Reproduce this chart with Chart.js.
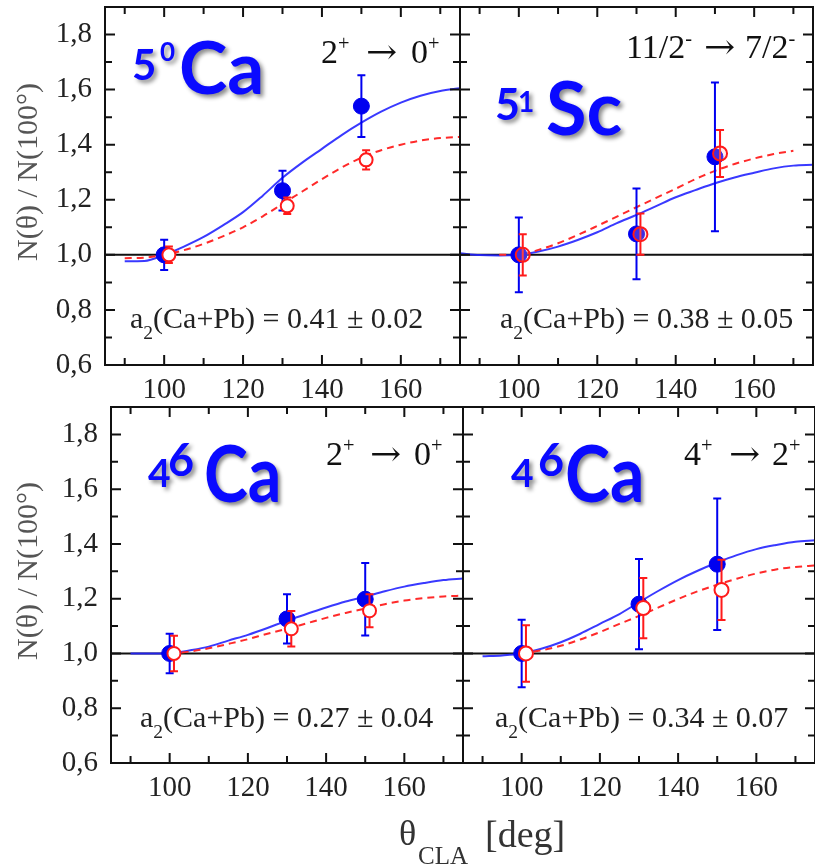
<!DOCTYPE html>
<html><head><meta charset="utf-8">
<script src="https://cdn.jsdelivr.net/npm/chart.js@4.4.1/dist/chart.umd.min.js"></script>
<style>
html,body{margin:0;padding:0;background:#fff;}
#wrap{position:relative;width:815px;height:866px;overflow:hidden;background:#fff;}
#wrap canvas{position:absolute;left:0;top:0;}
.t{position:absolute;white-space:nowrap;line-height:1;transform-origin:0 100%;}
.big{font-family:Lato,"Open Sans",sans-serif;font-weight:bold;color:#0a0aff;text-shadow:3px 3px 4px rgba(0,0,0,0.45);}
.ser{font-family:"Liberation Serif","Times New Roman",serif;}
.arr{font-family:"DejaVu Serif",serif;}
</style></head><body><div id="wrap">
<canvas id="cA" width="815" height="866"></canvas>
<canvas id="cB" width="815" height="866"></canvas>
<canvas id="cC" width="815" height="866"></canvas>
<canvas id="cD" width="815" height="866"></canvas>
</div>
<script>
// ---------- axis ticks ----------
const xTickValues = [90,100,110,120,130,140,150,160,170];
const xTickLabels = [100,120,140,160];
const yTickValues = [0.6,0.7,0.8,0.9,1.0,1.1,1.2,1.3,1.4,1.5,1.6,1.7,1.8];
const yTickLabels = [0.6,0.8,1.0,1.2,1.4,1.6,1.8];
const refLevel = 1.0;

// ---------- panel A : 50Ca 2+ -> 0+ ----------
const aBlueTheta = [100,130,150];
const aBlueVal   = [1.0,1.233,1.54];
const aBlueErr   = [0.055,0.072,0.112];
const aRedTheta  = [101.2,131.2,151.2];
const aRedVal    = [1.0,1.178,1.345];
const aRedErr    = [0.03,0.03,0.035];
const aFitBlueTheta = [90,95,100,105,110,115,120,125,130,135,140,145,150,155,160,165,170,175];
const aFitBlueVal   = [0.977,0.978,1.0,1.03,1.065,1.108,1.155,1.215,1.28,1.335,1.385,1.435,1.48,1.52,1.553,1.578,1.595,1.605];
const aFitRedTheta  = [90,95,100,105,110,115,120,125,130,135,140,145,150,155,160,165,170,175];
const aFitRedVal    = [0.988,0.99,1.0,1.017,1.04,1.068,1.1,1.14,1.185,1.23,1.275,1.317,1.353,1.38,1.40,1.415,1.424,1.428];

// ---------- panel B : 51Sc 11/2- -> 7/2- ----------
const bBlueTheta = [100,130,150];
const bBlueVal   = [1.0,1.076,1.356];
const bBlueErr   = [0.136,0.165,0.27];
const bRedTheta  = [101,131,151.3];
const bRedVal    = [1.0,1.075,1.368];
const bRedErr    = [0.075,0.075,0.085];
const bFitBlueTheta = [85,90,95,100,105,110,115,120,125,130,135,140,145,150,155,160,165,170,175];
const bFitBlueVal   = [1.006,0.999,0.998,1.0,1.012,1.03,1.054,1.082,1.115,1.145,1.177,1.209,1.235,1.26,1.281,1.298,1.314,1.324,1.327];
const bFitRedTheta  = [95,100,105,110,115,120,125,130,135,140,145,150,155,160,165,170];
const bFitRedVal    = [1.0,1.0,1.018,1.042,1.072,1.105,1.139,1.173,1.207,1.24,1.275,1.305,1.33,1.35,1.366,1.378];

// ---------- panel C : 46Ca 2+ -> 0+ ----------
const cBlueTheta = [100,130,150];
const cBlueVal   = [1.0,1.126,1.198];
const cBlueErr   = [0.072,0.09,0.132];
const cRedTheta  = [101.1,131.1,151.1];
const cRedVal    = [1.0,1.09,1.156];
const cRedErr    = [0.065,0.065,0.06];
const cFitBlueTheta = [90,95,100,105,110,115,120,125,130,135,140,145,150,155,160,165,170,175];
const cFitBlueVal   = [1.0,1.0,1.0,1.011,1.025,1.047,1.068,1.093,1.12,1.144,1.168,1.19,1.208,1.227,1.244,1.257,1.268,1.274];
const cFitRedTheta  = [100,105,110,115,120,125,130,135,140,145,150,155,160,165,170,175];
const cFitRedVal    = [1.0,1.007,1.019,1.035,1.052,1.072,1.09,1.11,1.13,1.148,1.164,1.18,1.193,1.202,1.208,1.211];

// ---------- panel D : 46Ca 4+ -> 2+ ----------
const dBlueTheta = [100,130,150];
const dBlueVal   = [1.0,1.18,1.326];
const dBlueErr   = [0.123,0.165,0.24];
const dRedTheta  = [101.1,131.1,151.1];
const dRedVal    = [1.0,1.166,1.232];
const dRedErr    = [0.103,0.11,0.11];
const dFitBlueTheta = [90,95,100,105,110,115,120,125,130,135,140,145,150,155,160,165,170,175];
const dFitBlueVal   = [0.99,0.993,1.0,1.017,1.041,1.072,1.108,1.144,1.187,1.229,1.268,1.302,1.332,1.359,1.381,1.396,1.408,1.413];
const dFitRedTheta  = [100,105,110,115,120,125,130,135,140,145,150,155,160,165,170,175];
const dFitRedVal    = [1.0,1.011,1.028,1.051,1.078,1.108,1.137,1.168,1.199,1.227,1.251,1.273,1.292,1.307,1.316,1.321];

// ---------- helpers ----------
const pts = (xs, ys) => xs.map((x, i) => ({x: x, y: ys[i]}));
const isLab = (arr, v) => arr.some(l => Math.abs(l - v) < 1e-9);

const framePlugin = {
  id: 'frame',
  beforeDatasetsDraw(chart) {
    const {ctx, chartArea: a, scales} = chart;
    const y = scales.y.getPixelForValue(refLevel);
    ctx.save();
    ctx.strokeStyle = '#111'; ctx.lineWidth = 2;
    ctx.beginPath(); ctx.moveTo(a.left, y); ctx.lineTo(a.right, y); ctx.stroke();
    ctx.restore();
  },
  beforeDatasetDraw(chart, args) {
    const ds = chart.data.datasets[args.index];
    if (!ds.errors) return;
    const {ctx, scales} = chart;
    ctx.save();
    ctx.strokeStyle = ds.borderColor; ctx.lineWidth = 2;
    ds.data.forEach((p, i) => {
      const e = ds.errors[i];
      const x = scales.x.getPixelForValue(p.x);
      const y1 = scales.y.getPixelForValue(p.y + e);
      const y2 = scales.y.getPixelForValue(p.y - e);
      ctx.beginPath();
      ctx.moveTo(x, y1); ctx.lineTo(x, y2);
      ctx.moveTo(x - 4, y1); ctx.lineTo(x + 4, y1);
      ctx.moveTo(x - 4, y2); ctx.lineTo(x + 4, y2);
      ctx.stroke();
    });
    ctx.restore();
  },
  afterDraw(chart) {
    const {ctx, chartArea: a, scales} = chart;
    ctx.save();
    ctx.strokeStyle = '#111'; ctx.lineWidth = 2;
    ctx.strokeRect(a.left, a.top, a.right - a.left, a.bottom - a.top);
    ctx.beginPath();
    xTickValues.forEach(v => {
      const x = scales.x.getPixelForValue(v);
      const L = isLab(xTickLabels, v) ? 10 : 7;
      ctx.moveTo(x, a.bottom); ctx.lineTo(x, a.bottom - L);
      ctx.moveTo(x, a.top); ctx.lineTo(x, a.top + L);
    });
    yTickValues.forEach(v => {
      const y = scales.y.getPixelForValue(v);
      const L = isLab(yTickLabels, v) ? 10 : 7;
      ctx.moveTo(a.left, y); ctx.lineTo(a.left + L, y);
      ctx.moveTo(a.right, y); ctx.lineTo(a.right - L, y);
    });
    ctx.stroke();
    ctx.restore();
  }
};

const tickFont = {family: '"Liberation Serif", "Times New Roman", serif', size: 29};
const tickColor = '#222';

function makePanel(id, area, showY, P) {
  const W = 815, H = 866, xH = 40;
  const yW = showY ? area.left : 0;
  new Chart(document.getElementById(id), {
    type: 'scatter',
    data: {datasets: [
      {label: 'fit Ca+Pb', type: 'line', data: pts(P.fbx, P.fby), borderColor: 'rgba(35,35,255,0.9)', borderWidth: 2,
       pointRadius: 0, cubicInterpolationMode: 'monotone', fill: false, order: 6},
      {label: 'fit Pb', type: 'line', data: pts(P.frx, P.fry), borderColor: '#ff2a2a', borderWidth: 2, borderDash: [7, 5],
       pointRadius: 0, cubicInterpolationMode: 'monotone', fill: false, order: 5},
      {label: 'Ca+Pb', data: pts(P.bx, P.by), errors: P.be, pointRadius: P.br, pointBackgroundColor: '#0000f0',
       borderColor: '#0000f0', pointBorderColor: '#0000f0', borderWidth: 1, order: 3},
      {label: 'Pb', data: pts(P.rx, P.ry), errors: P.re, pointRadius: P.rr, pointBackgroundColor: P.rfill,
       borderColor: '#ff1a1a', pointBorderColor: '#ff1a1a', pointBorderWidth: 2, order: 2}
    ]},
    options: {
      responsive: false, animation: false, devicePixelRatio: 1,
      layout: {autoPadding: false, padding: {left: area.left - yW, top: area.top, right: W - area.right, bottom: H - area.bottom - xH}},
      plugins: {legend: {display: false}, tooltip: {enabled: false}},
      scales: {
        x: {type: 'linear', min: 85, max: 175,
            grid: {display: false, drawTicks: false}, border: {display: false},
            afterBuildTicks: s => { s.ticks = xTickValues.map(v => ({value: v})); },
            ticks: {callback: v => isLab(xTickLabels, v) ? String(v) : '', font: tickFont, color: tickColor,
                    padding: 8, maxRotation: 0, autoSkip: false},
            afterFit: s => { s.height = xH; s.paddingLeft = 0; s.paddingRight = 0; }},
        y: {type: 'linear', min: 0.6, max: 1.9,
            grid: {display: false, drawTicks: false}, border: {display: false},
            afterBuildTicks: s => { s.ticks = yTickValues.map(v => ({value: v})); },
            ticks: {display: showY, callback: v => isLab(yTickLabels, v) ? v.toFixed(1).replace('.', ',') : '',
                    font: tickFont, color: tickColor, padding: 13, autoSkip: false},
            afterFit: s => { s.width = yW; s.paddingTop = 0; s.paddingBottom = 0; }}
      }
    },
    plugins: [framePlugin]
  });
}

makePanel('cA', {left: 105, top: 7, right: 460, bottom: 365}, true,
  {fbx: aFitBlueTheta, fby: aFitBlueVal, frx: aFitRedTheta, fry: aFitRedVal,
   bx: aBlueTheta, by: aBlueVal, be: aBlueErr, br: 8, rx: aRedTheta, ry: aRedVal, re: aRedErr, rr: 6.5, rfill: '#fff'});
makePanel('cB', {left: 460, top: 7, right: 813, bottom: 365}, false,
  {fbx: bFitBlueTheta, fby: bFitBlueVal, frx: bFitRedTheta, fry: bFitRedVal,
   bx: bBlueTheta, by: bBlueVal, be: bBlueErr, br: 8, rx: bRedTheta, ry: bRedVal, re: bRedErr, rr: 7, rfill: 'rgba(255,180,180,0.25)'});
makePanel('cC', {left: 111, top: 407, right: 463, bottom: 763}, true,
  {fbx: cFitBlueTheta, fby: cFitBlueVal, frx: cFitRedTheta, fry: cFitRedVal,
   bx: cBlueTheta, by: cBlueVal, be: cBlueErr, br: 8, rx: cRedTheta, ry: cRedVal, re: cRedErr, rr: 6.5, rfill: '#fff'});
makePanel('cD', {left: 463, top: 407, right: 815, bottom: 763}, false,
  {fbx: dFitBlueTheta, fby: dFitBlueVal, frx: dFitRedTheta, fry: dFitRedVal,
   bx: dBlueTheta, by: dBlueVal, be: dBlueErr, br: 8, rx: dRedTheta, ry: dRedVal, re: dRedErr, rr: 7, rfill: '#fff'});

// ---------- text overlays ----------
const wrap = document.getElementById('wrap');
function addText(html, left, baseline, size, cls, color, sx) {
  const d = document.createElement('div');
  d.className = 't ' + cls;
  d.innerHTML = html;
  const k = cls.indexOf('big') >= 0 ? 0.887 : 0.8375;
  d.style.left = left + 'px';
  d.style.top = (baseline - k * size) + 'px';
  d.style.fontSize = size + 'px';
  if (color) d.style.color = color;
  if (sx) d.style.transform = 'scaleX(' + sx + ')';
  wrap.appendChild(d);
  return d;
}
const SUP = s => '<span style="font-size:0.6em;position:relative;top:-0.62em">' + s + '</span>';
const SUB = s => '<span style="font-size:0.65em;position:relative;top:0.55em">' + s + '</span>';

// nucleus labels
addText('5', 132, 80, 42, 'big'); addText('0', 160, 61, 26, 'big'); addText('Ca', 179, 95, 73, 'big');
addText('5', 495, 120, 43, 'big'); addText('1', 518, 112, 28, 'big'); addText('Sc', 546, 136, 74, 'big');
addText('4', 148, 488, 39, 'big'); addText('6', 168, 477, 45, 'big'); addText('Ca', 204, 502, 78, 'big', null, 0.85);
addText('4', 511, 488, 39, 'big'); addText('6', 538, 477, 45, 'big'); addText('Ca', 565, 502, 78, 'big', null, 0.87);

// transitions
function trans(a, b, left, arrowLeft, rightLeft, baseline) {
  addText(a + SUP(a === '11/2' ? '-' : (b === '7/2' ? '-' : '+')), left, baseline, 34, 'ser', '#111');
  addText('\u2192', arrowLeft, baseline - 1, 34, 'arr', '#111', 1.1);
  addText(b + SUP(b === '7/2' ? '-' : '+'), rightLeft, baseline, 34, 'ser', '#111');
}
trans('2', '0', 321, 366, 411, 63);
trans('11/2', '7/2', 626, 704, 745, 58);
trans('2', '0', 326, 370, 414, 465);
trans('4', '2', 684, 729, 772, 465);

// a2 values
addText('a' + SUB('2') + '(Ca+Pb) = 0.41 \u00b1 0.02', 130, 328, 30, 'ser', '#222');
addText('a' + SUB('2') + '(Ca+Pb) = 0.38 \u00b1 0.05', 500, 328, 30, 'ser', '#222');
addText('a' + SUB('2') + '(Ca+Pb) = 0.27 \u00b1 0.04', 140, 727, 30, 'ser', '#222');
addText('a' + SUB('2') + '(Ca+Pb) = 0.34 \u00b1 0.07', 495, 727, 30, 'ser', '#222');

// axis titles
function yTitle(cx, cy) {
  const d = document.createElement('div');
  d.className = 't ser';
  d.textContent = 'N(\u03b8) / N(100\u00b0)';
  d.style.cssText += 'font-size:30px;color:#555;left:' + cx + 'px;top:' + cy + 'px;transform-origin:50% 50%;transform:translate(-50%,-50%) rotate(-90deg);';
  wrap.appendChild(d);
}
yTitle(27, 172);
yTitle(27, 571);
addText('\u03b8', 399, 845, 36, 'ser', '#333');
addText('CLA', 418, 864, 25, 'ser', '#333');
addText('[deg]', 485, 847, 38, 'ser', '#333');
</script>
</body></html>
